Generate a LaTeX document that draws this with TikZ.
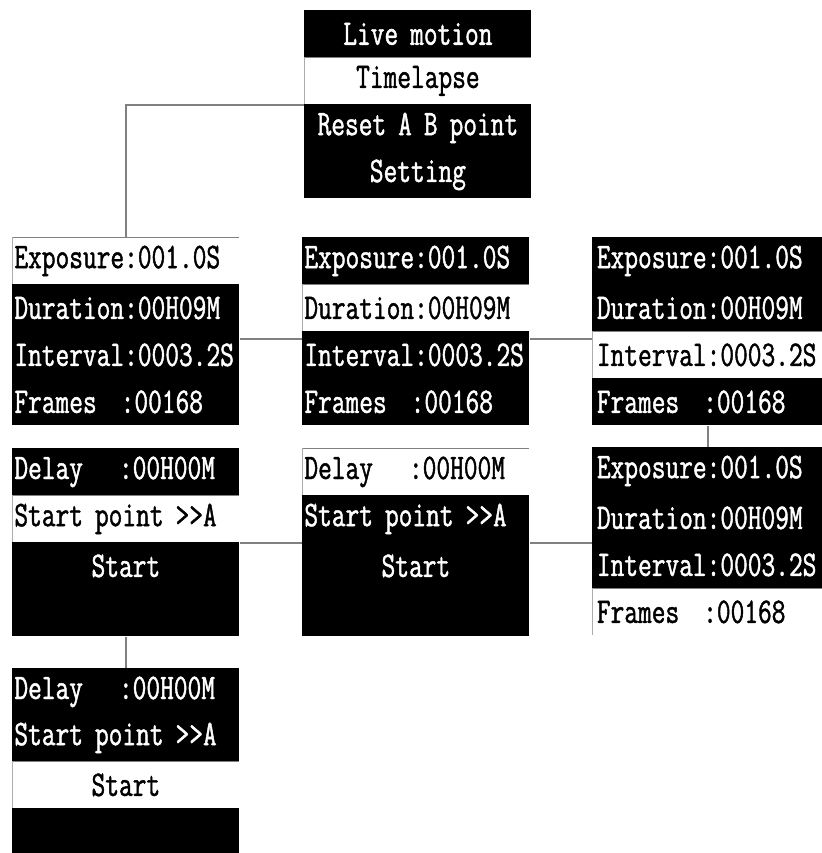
\documentclass[tikz,border=0pt]{standalone}
\usepackage{fontspec}
\newfontfamily\lcdfont[FakeStretch=0.74, FakeBold=1.2]{Latin Modern Mono}
\usetikzlibrary{positioning}

\begin{document}
\begin{tikzpicture}[x=0.5pt, y=-0.5pt,
    row/.style={anchor=north west, minimum width=113.5pt, minimum height=23.5pt, inner xsep=1pt, inner ysep=0pt, text width=111.5pt, font=\lcdfont\fontsize{18}{19}\selectfont},
    dk/.style={row, fill=black, text=white, align=left},
    lt/.style={row, fill=white, text=black, align=left,
        path picture={\draw[gray, line width=1pt] (path picture bounding box.south west) |- (path picture bounding box.north east);}},
    dkc/.style={dk, align=center},
    ltc/.style={lt, align=center},
    conn/.style={draw=gray, line width=1pt}
]
\useasboundingbox (0,0) rectangle (822,853);

% main menu
\foreach \i/\y/\st/\lab in {a/10/dkc/Live motion, b/57/ltc/Timelapse, c/104/dkc/Reset A B point, d/151/dkc/Setting}
    \node[\st] (Menu\i) at (304, \y) {\lab};

% timelapse parameter screens
\foreach \i/\y/\st/\lab in {a/237/lt/Exposure:001.0S, b/284/dk/Duration:00H09M, c/331/dk/Interval:0003.2S, d/378/dk/Frames\ \ :00168}
    \node[\st] (LOne\i) at (12, \y) {\lab};
\foreach \i/\y/\st/\lab in {a/237/dk/Exposure:001.0S, b/284/lt/Duration:00H09M, c/331/dk/Interval:0003.2S, d/378/dk/Frames\ \ :00168}
    \node[\st] (MOne\i) at (302, \y) {\lab};
\foreach \i/\y/\st/\lab in {a/237/dk/Exposure:001.0S, b/284/dk/Duration:00H09M, c/331/lt/Interval:0003.2S, d/378/dk/Frames\ \ :00168}
    \node[\st, minimum width=116pt] (ROne\i) at (592, \y) {\lab};
\foreach \i/\y/\st/\lab in {a/447/dk/Exposure:001.0S, b/494/dk/Duration:00H09M, c/541/dk/Interval:0003.2S, d/588/lt/Frames\ \ :00168}
    \node[\st, minimum width=116pt] (RTwo\i) at (592, \y) {\lab};

% start screens
\foreach \i/\y/\st/\lab in {a/448/dk/Delay\ \ \ :00H00M, b/495/lt/Start point >>A, c/542/dkc/Start, d/589/dk/}
    \node[\st] (LTwo\i) at (12, \y) {\lab};
\foreach \i/\y/\st/\lab in {a/448/lt/Delay\ \ \ :00H00M, b/495/dk/Start point >>A, c/542/dkc/Start, d/589/dk/}
    \node[\st] (MTwo\i) at (302, \y) {\lab};
\foreach \i/\y/\st/\lab in {a/668/dk/Delay\ \ \ :00H00M, b/714/dk/Start point >>A, c/761/ltc/Start, d/808/dk/}
    \node[\st] (LThree\i) at (12, \y) {\lab};

% connections
\draw[conn] (Menub.south west) -| (LOnea.north);
\draw[conn] ([yshift=-4pt]LOnec.north east) -- ([yshift=-4pt]MOnec.north west);
\draw[conn] ([yshift=-4pt]MOnec.north east) -- ([yshift=-4pt]ROnec.north west);
\draw[conn] (ROned.south) -- (RTwoa.north);
\draw[conn] (LTwob.south east) -- (MTwob.south west);
\draw[conn] (MTwob.south east) -- (MTwob.south east -| RTwoa.west);
\draw[conn] (LTwod.south) -- (LThreea.north);
\end{tikzpicture}
\end{document}
